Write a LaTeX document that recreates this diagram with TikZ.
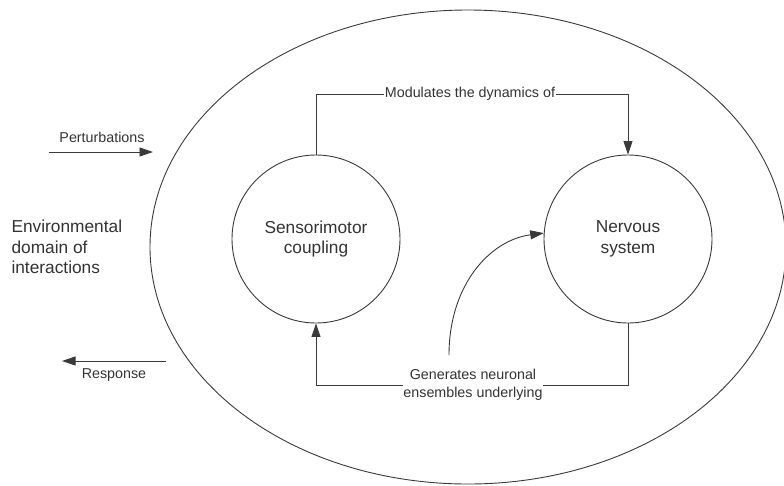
\documentclass[tikz,border=0pt]{standalone}
\usepackage{fontspec}
\setmainfont{Liberation Sans}
\usetikzlibrary{arrows.meta,shapes.geometric}
\definecolor{ink}{HTML}{333333}
\definecolor{edge}{HTML}{3A3A3A}
\tikzset{
  bigtext/.style={font=\fontsize{17.3}{20.7}\selectfont, text=ink},
  smalltext/.style={font=\fontsize{14.3}{18}\selectfont, text=ink},
  circ/.style={circle, draw=edge, line width=0.9pt, minimum size=168pt, inner sep=0pt, align=center, font=\fontsize{17.3}{20.7}\selectfont, text=ink},
  conn/.style={draw=edge, line width=0.9pt},
  arr/.style={conn, -{Triangle[length=13.5pt,width=9pt]}},
  lbl/.style={smalltext, fill=white, inner sep=0.5pt, align=center}
}
\begin{document}
\begin{tikzpicture}[x=1pt,y=-1pt]
\useasboundingbox (0,0) rectangle (784,485);
% outer domain
\node[ellipse, draw=edge, line width=0.9pt, minimum width=636pt, minimum height=474pt, inner sep=0pt] (dom) at (468,247) {};
% circles
\node[circ] (sm) at (316,239) {Sensorimotor\\coupling};
\node[circ] (ns) at (628,239) {Nervous\\system};
% left text
\node[bigtext, anchor=west, align=left] (env) at (8,247) {Environmental\\domain of\\interactions};
% perturbation / response
\coordinate (p0) at (49,152);
\coordinate (p1) at (153,152);
\draw[arr] (p0) -- (p1);
\node[smalltext] (pert) at (102,137) {Perturbations};
\coordinate (r0) at (166,361);
\coordinate (r1) at (62,361);
\draw[arr] (r0) -- (r1);
\node[smalltext] (resp) at (114,375) {Response};
% top connector
\node[lbl] (mod) at (470,94) {Modulates the dynamics of};
\draw[conn] (sm.north) |- (mod.west);
\draw[arr] (mod.east) -| (ns.north);
% bottom connector
\node[lbl] (gen) at (473,385) {Generates neuronal\\ensembles underlying};
\draw[conn] (ns.south) |- (gen.east);
\draw[arr] (gen.west) -| (sm.south);
% curved arrow
\coordinate (c0) at (449,355);
\draw[arr] (c0) .. controls (449,285) and (490,240) .. (ns.176);
\end{tikzpicture}
\end{document}
